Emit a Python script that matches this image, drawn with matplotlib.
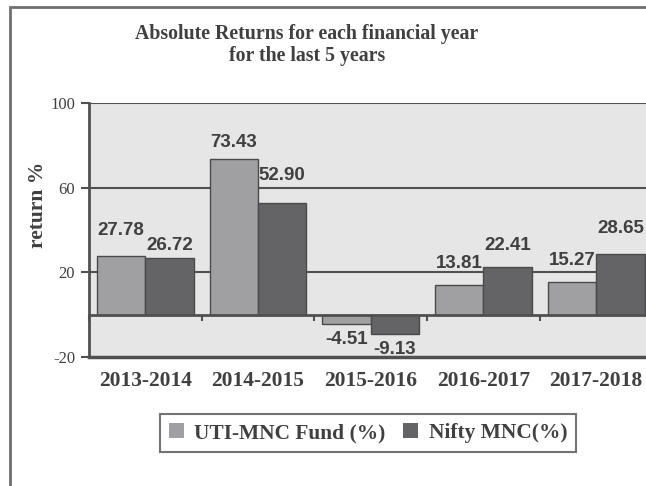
#!/usr/bin/env python3
"""Absolute returns per financial year: UTI-MNC Fund vs Nifty MNC."""

import matplotlib

matplotlib.use("Agg")
import matplotlib.pyplot as plt
from matplotlib.patches import Rectangle

years = ["2013-2014", "2014-2015", "2015-2016", "2016-2017", "2017-2018"]
uti_mnc = [27.78, 73.43, -4.51, 13.81, 15.27]
nifty_mnc = [26.72, 52.90, -9.13, 22.41, 28.65]
series_names = ["UTI-MNC Fund (%)", "Nifty MNC(%)"]
y_ticks = [-20, 20, 60, 100]

# gap (px) between bar end and its value label, as placed in the source
uti_gap = [21, 12, 9, 17, 17]
nifty_gap = [8, 23, 9, 17, 21]

TEXT = "#404040"
LINE = "#505050"
SERIF = "Liberation Serif"
SANS = "Liberation Sans"

fig = plt.figure(figsize=(6.46, 4.86), dpi=100)
fig.patch.set_facecolor("white")

# outer frame (open on right/bottom, as in the source image)
fig.patches.append(Rectangle((9.5 / 646, -0.1), 1.2, 1 - 6.5 / 486 + 0.1,
                             transform=fig.transFigure, fill=False,
                             edgecolor="#707070", linewidth=2, zorder=0))

ax = fig.add_axes([89 / 646, 1 - 357 / 486, 1 - 89 / 646 + 0.01, (357 - 103) / 486])
ax.set_facecolor("#e6e6e7")

x = list(range(len(years)))
w = 0.43
bars1 = ax.bar([i - w / 2 for i in x], uti_mnc, w, color="#a0a0a3",
               edgecolor="#4a4a4a", linewidth=1, label=series_names[0], zorder=3)
bars2 = ax.bar([i + w / 2 for i in x], nifty_mnc, w, color="#646466",
               edgecolor="#4a4a4a", linewidth=1, label=series_names[1], zorder=3)

for bars, vals, gaps in ((bars1, uti_mnc, uti_gap), (bars2, nifty_mnc, nifty_gap)):
    for b, v, g in zip(bars, vals, gaps):
        off = g * 0.72 if v >= 0 else -(g - 2) * 0.72
        ax.annotate(f"{v:.2f}", (b.get_x() + b.get_width() / 2, v),
                    xytext=(0, off), textcoords="offset points",
                    ha="center", va="baseline" if v >= 0 else "top",
                    fontsize=13.5, fontweight="bold", family=SANS, color=TEXT)

ax.set_xlim(-0.5, len(years) - 0.5)
ax.set_ylim(-20, 100)
ax.set_yticks(y_ticks)
ax.set_yticklabels([str(t) for t in y_ticks], family=SERIF, fontsize=12, color=TEXT)
ax.tick_params(axis="y", direction="out", length=6, width=1.5, color=LINE, pad=4)

for yv in (20, 60, 100):
    ax.axhline(yv, color=LINE, linewidth=1.5, zorder=1)
ax.axhline(-20, color=LINE, linewidth=2.5, zorder=4, clip_on=False)

# category axis sits on the zero line with small ticks between groups
ax.spines["bottom"].set_position(("data", 0))
ax.spines["bottom"].set_color(LINE)
ax.spines["bottom"].set_linewidth(2)
ax.spines["bottom"].set_zorder(4)
ax.set_xticks([i - 0.5 for i in x])
ax.set_xticklabels([])
ax.tick_params(axis="x", direction="out", length=4, width=1.5, color=LINE)
ax.spines["left"].set_color(LINE)
ax.spines["left"].set_linewidth(2)
ax.spines["top"].set_visible(False)
ax.spines["right"].set_visible(False)

for i, yr in zip(x, years):
    ax.text(i, -0.095, yr, transform=ax.get_xaxis_transform(), ha="center",
            va="center", family=SERIF, fontweight="bold", fontsize=15.5, color=TEXT)

fig.text(38 / 646, 1 - 205 / 486, "return %", rotation=90, ha="center", va="center",
         family=SERIF, fontweight="bold", fontsize=15.5, color=TEXT)
fig.text(307 / 646, 1 - 45 / 486, "Absolute Returns for each financial year\nfor the last 5 years",
         ha="center", va="center", family=SERIF, fontweight="bold", fontsize=14.3,
         color=TEXT, linespacing=1.15)

leg = fig.legend(handles=[bars1, bars2], labels=series_names, ncol=2,
                 loc="center", bbox_to_anchor=(368 / 646, 1 - 433 / 486),
                 prop={"family": SERIF, "weight": "bold", "size": 15.4},
                 frameon=True, fancybox=False, edgecolor=LINE,
                 handlelength=0.7, handleheight=0.7, columnspacing=0.8,
                 handletextpad=0.5, borderpad=0.4, borderaxespad=0)
leg.get_frame().set_linewidth(1.5)
for t in leg.get_texts():
    t.set_color(TEXT)
for h in leg.legend_handles:
    h.set_edgecolor("none")

fig.savefig("out.png", dpi=100)
